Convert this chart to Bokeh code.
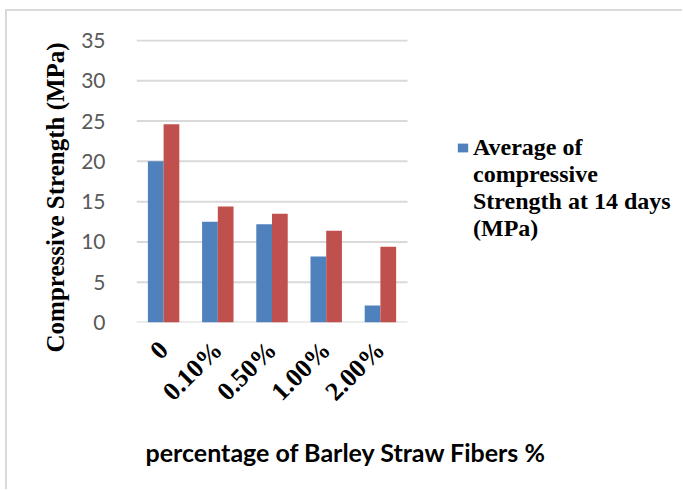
from math import pi

from bokeh.embed import file_html
from bokeh.models import (ColumnDataSource, FixedTicker, Legend, LegendItem,
                          Range1d, Title)
from bokeh.plotting import figure
from bokeh.resources import INLINE

# Fibre dosage (categories) and compressive strength results (MPa)
fiber_content = ["0", "0.10%", "0.50%", "1.00%", "2.00%"]
strength_14d = [20.0, 12.5, 12.2, 8.2, 2.1]
strength_28d = [24.6, 14.4, 13.5, 11.4, 9.4]
y_ticks = [0, 5, 10, 15, 20, 25, 30, 35]
legend_lines = ["Average of", "compressive", "Strength at 14 days", "(MPa)"]

BLUE = "#4f81bd"
RED = "#c0504d"
GRID = "#d9d9d9"
SERIF = "Liberation Serif"

n_cat = len(fiber_content)
centers = [i + 0.5 for i in range(n_cat)]
bar_w = 0.29

source = ColumnDataSource(dict(
    x14=[c - bar_w / 2 for c in centers],
    x28=[c + bar_w / 2 for c in centers],
    s14=strength_14d,
    s28=strength_28d,
))

# the plotting area also hosts the legend on its right-hand side;
# the category band occupies x in [0, n_cat]
p = figure(
    width=677, height=480,
    x_range=Range1d(0, 10.11),
    y_range=Range1d(0, 35.12),
    output_backend="svg",
    toolbar_location=None,
    min_border_left=129, min_border_right=0,
    min_border_top=28, min_border_bottom=169,
)
p.styles = {
    "margin-left": "5px",
    "margin-top": "9px",
    "border-top": f"2px solid {GRID}",
    "border-left": f"2px solid {GRID}",
}
p.outline_line_color = None
p.background_fill_color = "white"
p.border_fill_color = "white"

# horizontal gridlines across the category band only
p.xgrid.grid_line_color = None
p.ygrid.grid_line_color = None
p.segment(x0=0, x1=n_cat, y0=y_ticks, y1=y_ticks,
          line_color=GRID, line_width=2)

blue = p.vbar(x="x14", top="s14", width=bar_w, source=source,
              fill_color=BLUE, line_color=None)
p.vbar(x="x28", top="s28", width=bar_w, source=source,
       fill_color=RED, line_color=None)

# y axis
p.yaxis.ticker = FixedTicker(ticks=y_ticks)
p.yaxis.axis_line_color = None
p.yaxis.major_tick_line_color = None
p.yaxis.minor_tick_line_color = None
p.yaxis.major_label_text_font = "Lato"
p.yaxis.major_label_text_font_size = "21px"
p.yaxis.major_label_text_color = "#595959"
p.yaxis.major_label_standoff = 25

y_title = Title(
    text="Compressive Strength  (MPa)",
    align="left", offset=-30,
    text_font=SERIF, text_font_style="bold", text_font_size="25px",
    text_color="black", standoff=20,
)
p.add_layout(y_title, "left")

# x axis: one tick per fibre dosage
p.xaxis.ticker = FixedTicker(ticks=centers)
p.xaxis.major_label_overrides = {c: f for c, f in zip(centers, fiber_content)}
p.xaxis.axis_line_color = None
p.xaxis.major_tick_line_color = None
p.xaxis.minor_tick_line_color = None
p.xaxis.major_label_orientation = pi / 4
p.xaxis.major_label_text_font = SERIF
p.xaxis.major_label_text_font_style = "bold"
p.xaxis.major_label_text_font_size = "26px"
p.xaxis.major_label_text_color = "black"
p.xaxis.major_label_standoff = 17

x_title = Title(
    text="percentage of Barley Straw Fibers %",
    align="left", offset=9,
    text_font="Lato", text_font_style="bold", text_font_size="25px",
    text_color="black", standoff=30,
)
p.add_layout(x_title, "below")

# legend: swatch beside the first line, the rest of the name wraps below it
items = [LegendItem(label=legend_lines[0], renderers=[blue])]
items += [LegendItem(label=line, renderers=[]) for line in legend_lines[1:]]
legend = Legend(
    items=items,
    location=(320, 80),
    padding=0, margin=0, spacing=0,
    glyph_width=13, glyph_height=11, label_standoff=4, label_height=27,
    label_text_font=SERIF, label_text_font_style="bold",
    label_text_font_size="24px",
    label_text_color="black",
    border_line_color=None, background_fill_alpha=0,
)
p.add_layout(legend, "center")

open("out.html", "w").write(file_html(p, INLINE))
